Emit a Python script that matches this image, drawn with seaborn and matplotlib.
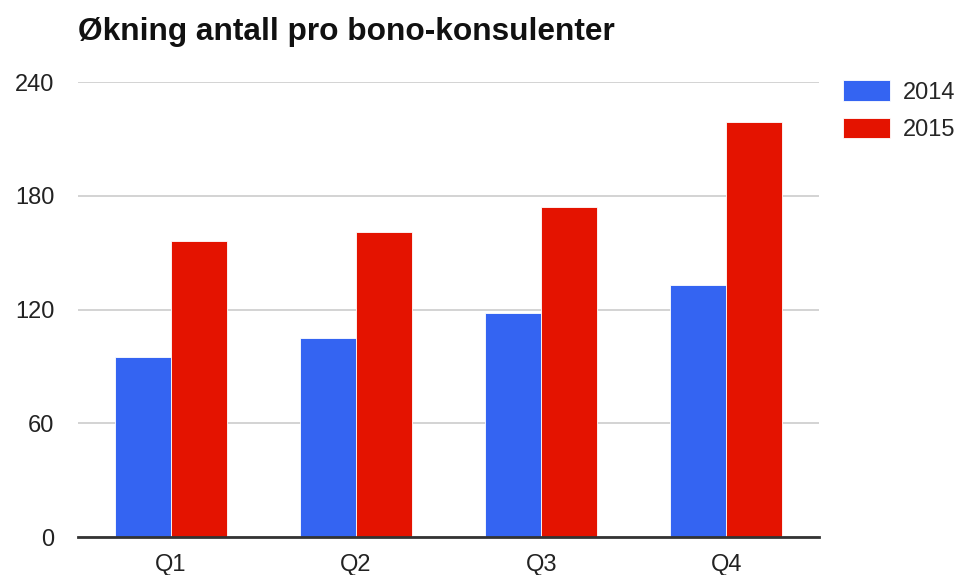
"""
Grouped bar chart: growth in pro bono consultants per quarter, 2014 vs 2015.
"""

import matplotlib.pyplot as plt
import pandas as pd
import seaborn as sns

quarters = ["Q1", "Q2", "Q3", "Q4"]
years = ["2014", "2015"]
values_2014 = [95, 105, 118, 133]
values_2015 = [156, 161, 174, 219]
y_ticks = [0, 60, 120, 180, 240]

colors = {"2014": "#3464F2", "2015": "#E41300"}

sns.set_style("white")
plt.rcParams["font.family"] = ["Liberation Sans", "DejaVu Sans"]

df = pd.DataFrame(
    {
        "quarter": quarters * 2,
        "year": [years[0]] * 4 + [years[1]] * 4,
        "value": values_2014 + values_2015,
    }
)

fig = plt.figure(figsize=(9.63, 5.75), dpi=100)
ax = fig.add_axes([0.081, 0.066, 0.7695, 0.791])

sns.barplot(
    data=df,
    x="quarter",
    y="value",
    hue="year",
    palette=colors,
    saturation=1,
    width=0.605,
    gap=0,
    edgecolor="white",
    linewidth=0.6,
    ax=ax,
    zorder=3,
)

ax.set_ylim(0, 240)
ax.set_xlim(-0.5, 3.5)
ax.set_yticks(y_ticks)
ax.yaxis.grid(True, color="#cccccc", linewidth=1.2, zorder=0)
ax.set_axisbelow(True)
ax.set_xlabel("")
ax.set_ylabel("")
for side in ["top", "right", "left"]:
    ax.spines[side].set_visible(False)
ax.spines["bottom"].set_color("#333333")
ax.spines["bottom"].set_linewidth(2)
ax.spines["bottom"].set_zorder(4)
ax.tick_params(axis="y", length=0, pad=17, labelsize=17, labelcolor="#222222")
ax.tick_params(axis="x", length=0, pad=12, labelsize=17, labelcolor="#222222")

fig.text(
    0.081, 0.944, "Økning antall pro bono-konsulenter",
    fontsize=22.8, fontweight="bold", color="#111111", va="center", ha="left",
)

ax.legend(
    loc="upper left",
    bbox_to_anchor=(0.875, 0.86),
    bbox_transform=fig.transFigure,
    frameon=False,
    fontsize=17,
    handlelength=2.0,
    handleheight=0.95,
    handletextpad=0.55,
    labelspacing=0.6,
    borderpad=0,
    borderaxespad=0,
)

fig.savefig("out.png", dpi=100)
plt.close(fig)
